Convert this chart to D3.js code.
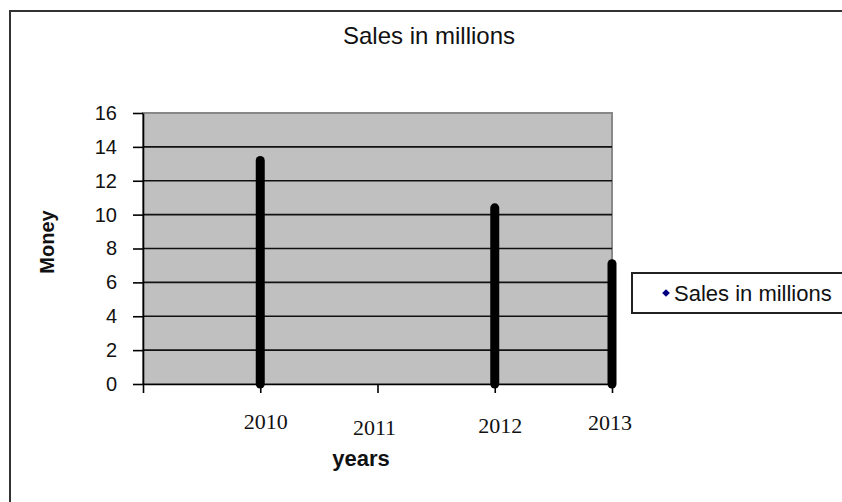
<!DOCTYPE html>
<html>
<head>
<meta charset="utf-8">
<script src="https://cdn.jsdelivr.net/npm/d3@7"></script>
<style>
  html, body { margin: 0; padding: 0; background: #fff; }
  svg { display: block; }
</style>
</head>
<body>
<svg id="chart" width="842" height="502"></svg>
<script>
// Sales figures, in millions
const years = [2010, 2012, 2013];
const sales = [13.2, 10.4, 7.1];

// Axis settings
const yTicks = [0, 2, 4, 6, 8, 10, 12, 14, 16];
const xTickYears = [2009, 2010, 2011, 2012, 2013];
const yearLabels = ["2010", "2011", "2012", "2013"];

// Hand-placed nudges for the year captions under the axis (dx, baseline)
const labelNudge = [[5.5, 429], [-3, 435], [5.5, 433], [-2, 430]];

const svg = d3.select("#chart");
const plot = { left: 143, top: 113, right: 612, bottom: 384 };

const x = d3.scaleLinear().domain([2009, 2013]).range([plot.left, plot.right]);
const y = d3.scaleLinear().domain([0, 16]).range([plot.bottom, plot.top]);

// Outer chart frame (runs off the right and bottom edges)
svg.append("rect")
  .attr("x", 10).attr("y", 11)
  .attr("width", 900).attr("height", 600)
  .attr("fill", "#fff")
  .attr("stroke", "#333").attr("stroke-width", 2);

// Title
svg.append("text")
  .attr("x", 429).attr("y", 44)
  .attr("text-anchor", "middle")
  .attr("font-family", "Liberation Sans, Arial, sans-serif")
  .attr("font-size", 24)
  .attr("fill", "#111")
  .text("Sales in millions");

// Plot area
svg.append("rect")
  .attr("x", plot.left).attr("y", plot.top)
  .attr("width", plot.right - plot.left).attr("height", plot.bottom - plot.top)
  .attr("fill", "#c0c0c0")
  .attr("stroke", "#888").attr("stroke-width", 2);

// Horizontal gridlines
svg.append("g")
  .selectAll("line")
  .data(yTicks.filter(d => d > 0 && d < 16))
  .join("line")
  .attr("x1", plot.left).attr("x2", plot.right)
  .attr("y1", d => y(d)).attr("y2", d => y(d))
  .attr("stroke", "#111").attr("stroke-width", 1.6);

// Y axis
const yAxis = svg.append("g")
  .attr("transform", `translate(${plot.left},0)`)
  .call(d3.axisLeft(y).tickValues(yTicks).tickSize(10).tickPadding(16).tickSizeOuter(0));
yAxis.select(".domain").attr("stroke", "#000").attr("stroke-width", 1.6);
yAxis.selectAll(".tick line").attr("stroke", "#000").attr("stroke-width", 1.6);
yAxis.selectAll(".tick text")
  .attr("font-family", "Liberation Sans, Arial, sans-serif")
  .attr("font-size", 20)
  .attr("fill", "#111");

// X axis (tick marks only; year captions drawn separately)
const xAxis = svg.append("g")
  .attr("transform", `translate(0,${plot.bottom})`)
  .call(d3.axisBottom(x).tickValues(xTickYears).tickSize(9).tickSizeOuter(0).tickFormat(""));
xAxis.select(".domain").attr("stroke", "#000").attr("stroke-width", 1.6);
xAxis.selectAll(".tick line").attr("stroke", "#000").attr("stroke-width", 1.6);

// Year captions
svg.append("g")
  .selectAll("text")
  .data(yearLabels)
  .join("text")
  .attr("x", (d, i) => x(+d) + labelNudge[i][0])
  .attr("y", (d, i) => labelNudge[i][1])
  .attr("text-anchor", "middle")
  .attr("font-family", "Liberation Serif, Times New Roman, serif")
  .attr("font-size", 22)
  .attr("fill", "#111")
  .text(d => d);

// Sales drop lines
svg.append("g")
  .selectAll("line")
  .data(years.map((yr, i) => ({ yr, v: sales[i] })))
  .join("line")
  .attr("x1", d => x(d.yr)).attr("x2", d => x(d.yr))
  .attr("y1", y(0)).attr("y2", d => y(d.v))
  .attr("stroke", "#000").attr("stroke-width", 9)
  .attr("stroke-linecap", "round");

// Axis titles
svg.append("text")
  .attr("x", 361).attr("y", 466)
  .attr("text-anchor", "middle")
  .attr("font-family", "Liberation Sans, Arial, sans-serif")
  .attr("font-weight", "bold")
  .attr("font-size", 22)
  .attr("fill", "#111")
  .text("years");

svg.append("text")
  .attr("transform", "translate(54,242) rotate(-90)")
  .attr("text-anchor", "middle")
  .attr("font-family", "Liberation Sans, Arial, sans-serif")
  .attr("font-weight", "bold")
  .attr("font-size", 20)
  .attr("fill", "#111")
  .text("Money");

// Legend
const legend = svg.append("g");
legend.append("rect")
  .attr("x", 632).attr("y", 273)
  .attr("width", 260).attr("height", 40)
  .attr("fill", "#fff")
  .attr("stroke", "#222").attr("stroke-width", 2);
legend.append("path")
  .attr("d", d3.symbol(d3.symbolSquare, 30)())
  .attr("transform", "translate(666,293) rotate(45)")
  .attr("fill", "#000080");
legend.append("text")
  .attr("x", 674).attr("y", 301)
  .attr("font-family", "Liberation Sans, Arial, sans-serif")
  .attr("font-size", 22)
  .attr("fill", "#111")
  .text("Sales in millions");
</script>
</body>
</html>
